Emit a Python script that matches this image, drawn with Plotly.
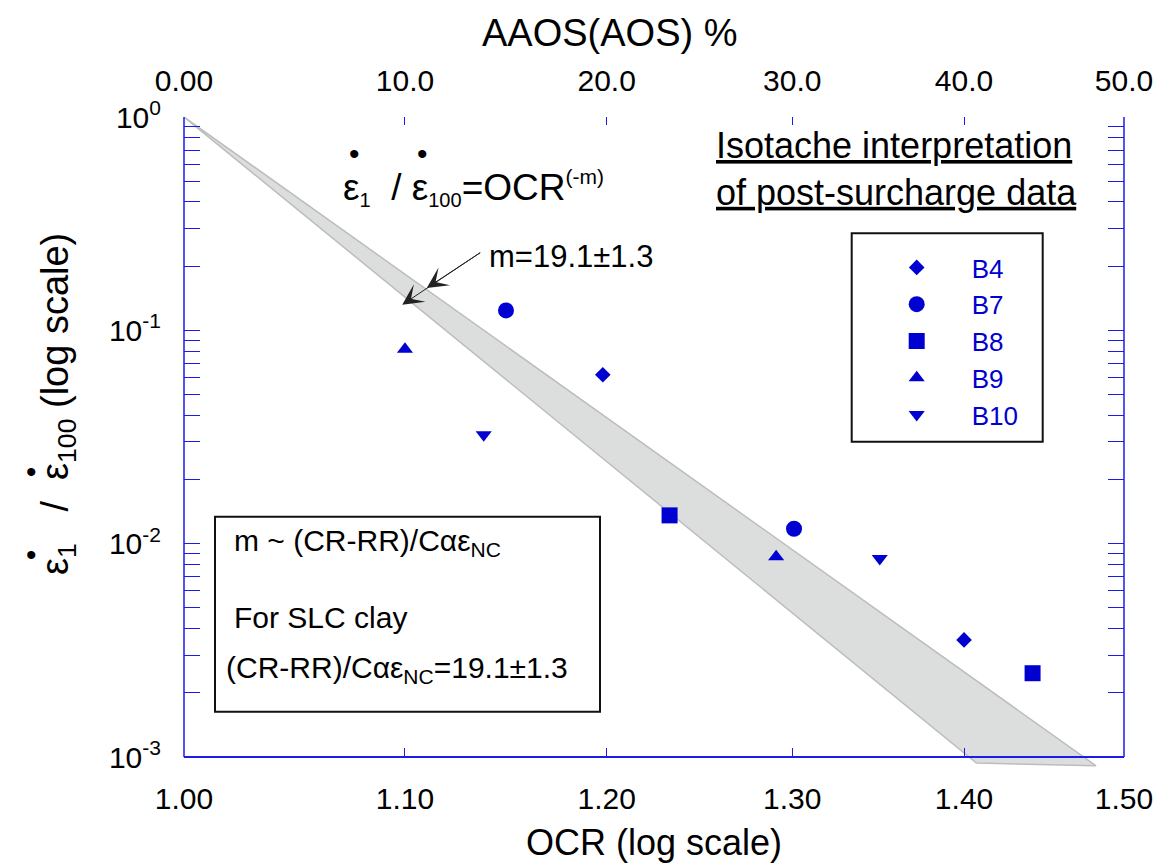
import math
import plotly.graph_objects as go

# ---- data: strain-rate ratio (eps_dot_1 / eps_dot_100) against OCR per borehole ----
series_names = ["B4", "B7", "B8", "B9", "B10"]
ocr_B4 = [1.198, 1.400]
rate_B4 = [0.0619, 0.00354]
ocr_B7 = [1.149, 1.301]
rate_B7 = [0.124, 0.01175]
ocr_B8 = [1.233, 1.442]
rate_B8 = [0.01357, 0.00247]
ocr_B9 = [1.100, 1.291]
rate_B9 = [0.0815, 0.00868]
ocr_B10 = [1.138, 1.350]
rate_B10 = [0.0324, 0.00851]

# isotache exponent band: rate = OCR^(-m), m = 19.1 +/- 1.3
m_center = 19.1
m_spread = 1.3
band_end_ocr = [1.482, 1.4075]  # OCR where the m- and m+ bounds stop

# axis ticks
ocr_ticks = [1.0, 1.1, 1.2, 1.3, 1.4, 1.5]
ocr_ticktext = ["1.00", "1.10", "1.20", "1.30", "1.40", "1.50"]
aaos_ticktext = ["0.00", "10.0", "20.0", "30.0", "40.0", "50.0"]
rate_ticks = [1e-3, 1e-2, 1e-1, 1.0]
rate_ticktext = ["10<sup>-3</sup>", "10<sup>-2</sup>", "10<sup>-1</sup>", "10<sup>0</sup>"]
rate_minor = [k * 10.0 ** e for e in (-3, -2, -1) for k in range(2, 10)]

# ---- styling ----
BLUE = "#0000d0"
FRAME = "#1c1ce8"
FONT = "Liberation Sans, Arial, sans-serif"
W, H = 1163, 865
ML, MR, MT, MB = 184, 39, 117, 88
AXIS_BOTTOM = 757                      # pixel row of the framed 10^-3 edge
plot_h = H - MT - MB
plot_w = W - ML - MR
frame_lo = (H - MB - AXIS_BOTTOM) / plot_h
# y range stretched past 10^-3 so the band can dip just below the frame
ext_lo = -3 - 3 * (H - MB - AXIS_BOTTOM) / (AXIS_BOTTOM - MT)
x_range = [0, math.log10(1.5)]
NB = "\u00a0"


def px(xp):
    return (xp - ML) / plot_w


def py(yp):
    return (H - MB - yp) / plot_h


fig = go.Figure()

# grey isotache band between OCR^-(m-dm) and OCR^-(m+dm)
m_lo, m_hi = m_center - m_spread, m_center + m_spread
band_x = [1.0, band_end_ocr[0], band_end_ocr[1], 1.0]
band_y = [1.0, band_end_ocr[0] ** -m_lo, band_end_ocr[1] ** -m_hi, 1.0]
fig.add_trace(go.Scatter(
    x=band_x, y=band_y, mode="lines", fill="toself", xaxis="x", yaxis="y",
    fillcolor="#dcdddd", line=dict(color="#bdbdbd", width=1.5),
    showlegend=False, hoverinfo="skip"))

symbols = {"B4": ("diamond", 12), "B7": ("circle", 16), "B8": ("square", 16),
           "B9": ("triangle-up", 14), "B10": ("triangle-down", 14)}
series = {"B4": (ocr_B4, rate_B4), "B7": (ocr_B7, rate_B7), "B8": (ocr_B8, rate_B8),
          "B9": (ocr_B9, rate_B9), "B10": (ocr_B10, rate_B10)}
for name in series_names:
    xs, ys = series[name]
    sym, size = symbols[name]
    fig.add_trace(go.Scatter(
        x=xs, y=ys, mode="markers", name=name, xaxis="x2", yaxis="y",
        marker=dict(symbol=sym, size=size, color=BLUE, line=dict(width=0))))

tick_font = dict(family=FONT, size=30, color="black")
title_font = dict(family=FONT, size=36, color="black")

fig.update_layout(
    width=W, height=H,
    margin=dict(l=ML, r=MR, t=MT, b=MB, pad=0),
    paper_bgcolor="white", plot_bgcolor="white",
    font=dict(family=FONT, color="black"),
    xaxis=dict(type="log", range=x_range, anchor="free", position=frame_lo,
               tickvals=ocr_ticks, ticktext=ocr_ticktext,
               ticks="inside", ticklen=8, tickwidth=1, tickcolor=FRAME,
               showline=True, linecolor=FRAME, linewidth=1.5, mirror=True,
               showgrid=False, zeroline=False, tickfont=tick_font,
               ticklabelstandoff=15, automargin=False,
               title=dict(text="OCR (log scale)", font=title_font, standoff=15)),
    xaxis2=dict(type="log", range=x_range, overlaying="x", anchor="y", side="top",
                tickvals=ocr_ticks, ticktext=aaos_ticktext,
                ticks="inside", ticklen=8, tickwidth=1, tickcolor=FRAME,
                showline=False, showgrid=False, zeroline=False, tickfont=tick_font,
                ticklabelstandoff=19, automargin=False),
    yaxis=dict(type="log", range=[ext_lo, 0], domain=[0, 1], anchor="x",
               tickvals=rate_ticks, ticktext=rate_ticktext,
               ticks="inside", ticklen=16, tickwidth=1, tickcolor=FRAME,
               minor=dict(tickvals=rate_minor, ticks="inside", ticklen=8,
                          tickwidth=1, tickcolor=FRAME, showgrid=False),
               showline=False, mirror="allticks",
               showgrid=False, zeroline=False, tickfont=tick_font,
               ticklabelstandoff=22, automargin=False),
    legend=dict(x=px(861.7), y=py(244), xanchor="left", yanchor="top",
                bgcolor="rgba(0,0,0,0)", borderwidth=0, itemwidth=100,
                font=dict(family=FONT, size=26, color=BLUE), tracegroupgap=0),
    showlegend=True,
)

# side edges of the frame (the y-axis itself runs a little past 10^-3)
for edge in (0, 1):
    fig.add_shape(type="line", xref="paper", yref="paper", x0=edge, x1=edge,
                  y0=frame_lo, y1=1, line=dict(color=FRAME, width=1.5))
# frames around the legend and the note
fig.add_shape(type="rect", xref="paper", yref="paper",
              x0=px(851.7), x1=px(1042.7), y0=py(441.7), y1=py(233.3),
              line=dict(color="#111111", width=2))
fig.add_shape(type="rect", xref="paper", yref="paper",
              x0=px(215), x1=px(600), y0=py(711.7), y1=py(516.7),
              line=dict(color="#111111", width=2))

ann = []
# top axis title
ann.append(dict(xref="paper", yref="paper", x=px(610), y=py(33), showarrow=False,
                xanchor="center", yanchor="middle", text="AAOS(AOS) %",
                font=dict(family=FONT, size=38, color="black")))
# y-axis title, rotated, with dots marking the rates
ann.append(dict(xref="paper", yref="paper", x=px(58), y=py(404), textangle=-90,
                xanchor="center", yanchor="middle", showarrow=False,
                text=("ε<sub>1</sub>" + NB * 3 + "/" + NB * 2 + "ε<sub>100</sub>"
                      + NB + "(log scale)"),
                font=dict(family=FONT, size=38, color="black")))
for by in (554, 471):
    ann.append(dict(xref="paper", yref="paper", x=px(24), y=py(by), showarrow=False,
                    text="•", font=dict(family=FONT, size=30, color="black")))
# heading
ann.append(dict(xref="paper", yref="paper", x=px(714), y=py(169), xanchor="left",
                yanchor="middle", align="left", showarrow=False,
                text="<u>Isotache interpretation</u><br><u>of post-surcharge data</u>",
                font=dict(family=FONT, size=36, color="black")))
# relation
ann.append(dict(xref="paper", yref="paper", x=px(341), y=py(188), xanchor="left",
                yanchor="middle", showarrow=False,
                text=("ε<sub><span style='font-size:20px'>1</span></sub>" + NB * 2 + "/" + NB
                      + "ε<sub><span style='font-size:20px'>100</span></sub>=OCR"
                      + "<sup><span style='font-size:21px'>(-m)</span></sup>"),
                font=dict(family=FONT, size=37, color="black")))
for bx in (347, 415):
    ann.append(dict(xref="paper", yref="paper", x=px(bx), y=py(135), showarrow=False,
                    text="•", font=dict(family=FONT, size=30, color="black")))
ann.append(dict(xref="paper", yref="paper", x=px(487), y=py(237), showarrow=False,
                text="m=19.1±1.3", font=dict(family=FONT, size=31, color="black")))
# pointer with two stacked heads onto the band
for tip_ocr, tip_rate in ((1.0987, 0.1318), (1.1104, 0.158)):
    tx = math.log10(tip_ocr)
    ty = math.log10(tip_rate)
    ann.append(dict(xref="x", yref="y", x=tx, y=ty, text="", showarrow=True,
                    axref="pixel", ayref="pixel",
                    ax=(481.7 - (ML + tx / x_range[1] * plot_w)),
                    ay=(251.7 - (MT + (-ty) / 3 * (AXIS_BOTTOM - MT))),
                    arrowhead=3, arrowsize=3.5, arrowwidth=1, arrowcolor="#222222",
                    standoff=0))
# note box text
note_font = dict(family=FONT, size=30, color="black")
ann.append(dict(xref="paper", yref="paper", x=px(232), y=py(542), xanchor="left",
                yanchor="middle", showarrow=False,
                text="m ~ (CR-RR)/Cαε<sub>NC</sub>", font=note_font))
ann.append(dict(xref="paper", yref="paper", x=px(232), y=py(617), xanchor="left",
                yanchor="middle", showarrow=False, text="For SLC clay", font=note_font))
ann.append(dict(xref="paper", yref="paper", x=px(224), y=py(669), xanchor="left",
                yanchor="middle", showarrow=False,
                text="(CR-RR)/Cαε<sub>NC</sub>=19.1±1.3", font=note_font))
fig.update_layout(annotations=ann)

fig.write_html("out.html")
